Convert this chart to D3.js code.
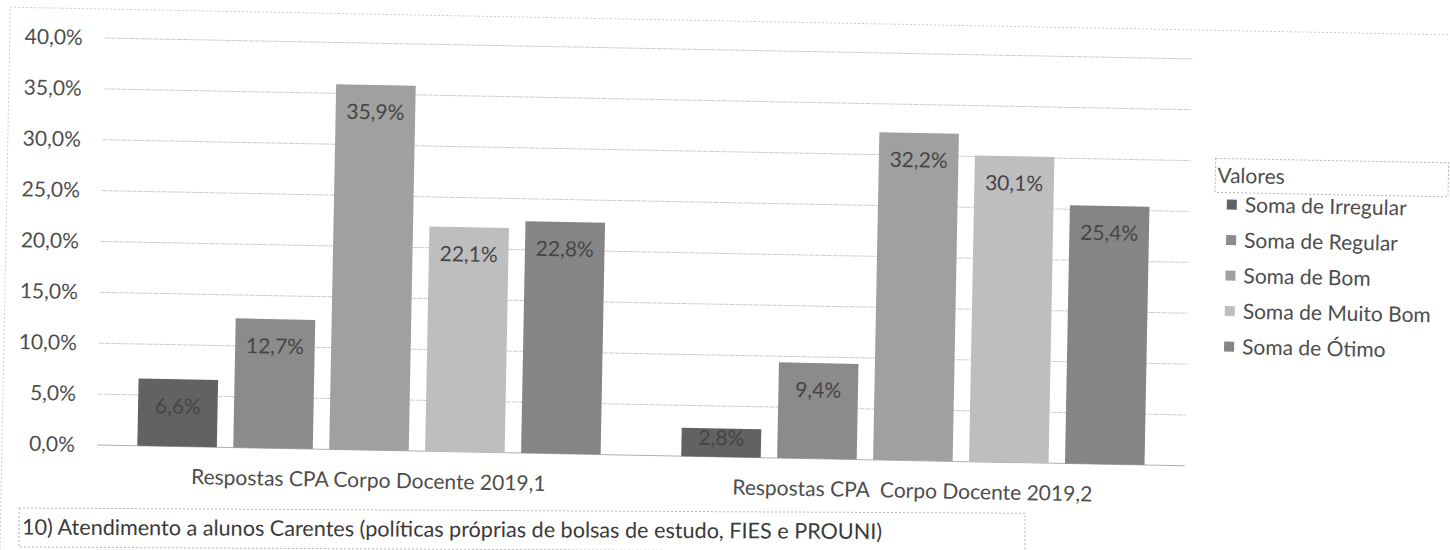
<!DOCTYPE html>
<html>
<head>
<meta charset="utf-8">
<script src="https://cdn.jsdelivr.net/npm/d3@7/dist/d3.min.js"></script>
<style>
  html, body { margin: 0; padding: 0; background: #fff; }
  svg { display: block; }
  text { font-family: Lato, "Open Sans", sans-serif; }
</style>
</head>
<body>
<svg id="chart" width="1450" height="550"></svg>
<script>
// ---------- data ----------
const categories = ["Respostas CPA Corpo Docente 2019,1", "Respostas CPA  Corpo Docente 2019,2"];
const seriesNames = ["Soma de Irregular", "Soma de Regular", "Soma de Bom", "Soma de Muito Bom", "Soma de Ótimo"];
const irregular = [6.6, 2.8];
const regular   = [12.7, 9.4];
const bom       = [35.9, 32.2];
const muitoBom  = [22.1, 30.1];
const otimo     = [22.8, 25.4];
const yTicks = [0, 5, 10, 15, 20, 25, 30, 35, 40];
const legendTitle = "Valores";
const caption = "10) Atendimento a alunos Carentes (políticas próprias de bolsas de estudo, FIES e PROUNI)";

const seriesValues = [irregular, regular, bom, muitoBom, otimo];
const colors = ["#626262", "#8b8b8b", "#a0a0a0", "#bebebe", "#858585"];

// ---------- layout ----------
const svg = d3.select("#chart");
const FS = 21;
const textColor = "#4d4d4d";
const fmt = v => d3.format(".1f")(v).replace(".", ",") + "%";

// scanned page is slightly rotated
const g = svg.append("g").attr("transform", "rotate(1.1, 100, 445)");

// outer chart border
g.append("rect")
  .attr("x", 2).attr("y", 9).attr("width", 1500).attr("height", 620)
  .attr("fill", "none").attr("stroke", "#cccccc").attr("stroke-width", 1)
  .attr("stroke-dasharray", "2,2");

const x0 = d3.scaleBand().domain(categories).range([97, 1185]).paddingInner(0).paddingOuter(0);
const x1 = d3.scaleBand().domain(seriesNames).range([0, x0.bandwidth()]).paddingInner(0.171).paddingOuter(0.42);
const y = d3.scaleLinear().domain([0, 40]).range([445, 38]);

// gridlines
g.append("g").selectAll("line").data(yTicks).join("line")
  .attr("x1", 97).attr("x2", 1185)
  .attr("y1", d => y(d)).attr("y2", d => y(d))
  .attr("stroke", d => d === 0 ? "#b0b0b0" : "#cdcdcd")
  .attr("stroke-width", 1)
  .attr("stroke-dasharray", d => d === 0 ? null : "5,1");

// y axis labels
const yAxis = d3.axisLeft(y).tickValues(yTicks).tickFormat(fmt).tickSize(0).tickPadding(0);
const ya = g.append("g").attr("transform", "translate(75,0)").call(yAxis);
ya.select(".domain").remove();
ya.selectAll("text").attr("font-size", FS).attr("fill", textColor)
  .attr("font-family", "Lato, sans-serif");

// bars
const groups = g.append("g").selectAll("g").data(categories).join("g")
  .attr("transform", d => `translate(${x0(d)},0)`);

groups.each(function(cat, ci) {
  const sel = d3.select(this);
  const rows = seriesNames.map((s, si) => ({s, si, v: seriesValues[si][ci]}));
  sel.selectAll("rect").data(rows).join("rect")
    .attr("x", d => x1(d.s))
    .attr("y", d => y(d.v))
    .attr("width", x1.bandwidth())
    .attr("height", d => y(0) - y(d.v))
    .attr("fill", d => colors[d.si]);
  sel.selectAll("text").data(rows).join("text")
    .attr("x", d => x1(d.s) + x1.bandwidth() / 2)
    .attr("y", d => {
      const h = y(0) - y(d.v);
      return y(d.v) + (h < 45 ? h * 0.33 : 27);
    })
    .attr("dy", "0.35em")
    .attr("text-anchor", "middle")
    .attr("font-size", FS)
    .attr("fill", "#454545")
    .text(d => fmt(d.v));
});

// category labels
g.append("g").selectAll("text").data(categories).join("text")
  .attr("x", d => x0(d) + x0.bandwidth() / 2)
  .attr("y", 475)
  .attr("dy", "0.35em")
  .attr("text-anchor", "middle")
  .attr("font-size", FS)
  .attr("fill", textColor)
  .style("white-space", "pre")
  .text(d => d);

// legend
const lg = g.append("g");
lg.append("rect")
  .attr("x", 1210).attr("y", 137).attr("width", 233).attr("height", 34)
  .attr("fill", "none").attr("stroke", "#b5b5b5").attr("stroke-dasharray", "2,2");
lg.append("text")
  .attr("x", 1212).attr("y", 154).attr("dy", "0.35em")
  .attr("font-size", FS).attr("fill", textColor).text(legendTitle);
const items = lg.selectAll("g.item").data(seriesNames).join("g")
  .attr("class", "item")
  .attr("transform", (d, i) => `translate(1222, ${183 + i * 35.5})`);
items.append("rect").attr("x", 0).attr("y", -5).attr("width", 10).attr("height", 10)
  .attr("fill", (d, i) => colors[i]);
items.append("text").attr("x", 18).attr("y", 0).attr("dy", "0.35em")
  .attr("font-size", FS).attr("fill", textColor).text(d => d);

// caption box (less rotated in the scan)
const cg = svg.append("g").attr("transform", "rotate(0.3, 19, 527)");
cg.append("rect")
  .attr("x", 19).attr("y", 508).attr("width", 1006).attr("height", 39)
  .attr("fill", "none").attr("stroke", "#b5b5b5").attr("stroke-dasharray", "2,2");
cg.append("text")
  .attr("x", 22).attr("y", 527).attr("dy", "0.35em")
  .attr("font-size", 21.6).attr("fill", "#3a3a3a").text(caption);
</script>
</body>
</html>
